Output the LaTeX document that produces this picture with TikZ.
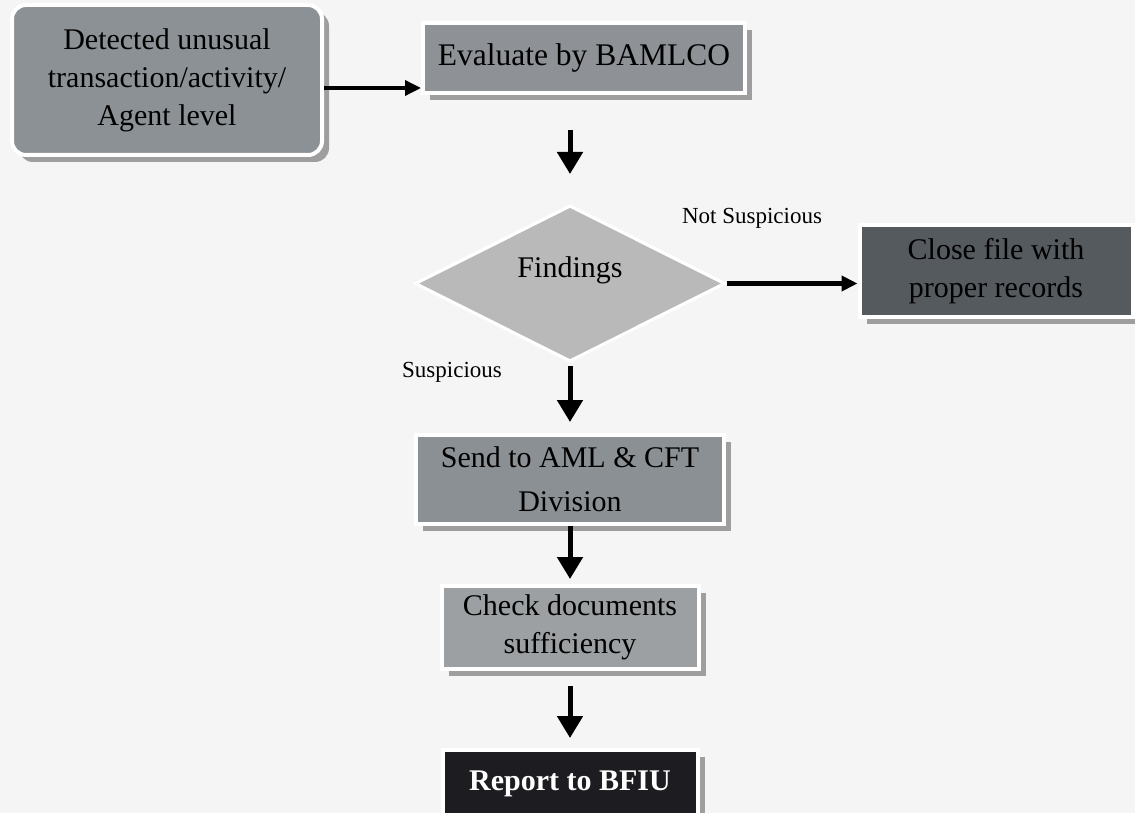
\documentclass[tikz,border=0pt]{standalone}
\usepackage{fontspec}
\setmainfont{Liberation Serif}
\usetikzlibrary{positioning,shapes.geometric,shadows,arrows.meta}

\definecolor{paper}{HTML}{F5F5F5}
\definecolor{detgray}{HTML}{8C9195}
\definecolor{evalgray}{HTML}{8E9296}
\definecolor{findgray}{HTML}{B9B9B9}
\definecolor{closegray}{HTML}{555A5F}
\definecolor{sendgray}{HTML}{8B9094}
\definecolor{checkgray}{HTML}{9DA0A2}
\definecolor{reportgray}{HTML}{1D1D21}

\tikzset{
  boxtext/.style={font=\fontsize{30}{38}\selectfont, align=center, inner sep=0pt},
  flowbox/.style={boxtext, rectangle, draw=white, line width=4pt,
    drop shadow={shadow xshift=7pt, shadow yshift=-7pt, fill=black!38, opacity=1}},
  decision/.style={boxtext, diamond, fill=findgray, draw=white, line width=3pt},
  flowarrow/.style={-{Triangle[length=22pt,width=25pt]}, line width=5pt},
  sidearrow/.style={-{Triangle[length=16pt,width=15pt]}, line width=3.5pt},
  branchlabel/.style={font=\fontsize{23}{27}\selectfont}
}

\begin{document}
\begin{tikzpicture}[x=1pt,y=-1pt]
  \useasboundingbox[fill=paper] (0,0) rectangle (1135,813);

  % --- Start and evaluation ---
  \node[flowbox, fill=detgray, rounded corners=14pt, minimum width=310pt, minimum height=150pt] (detect) at (167,80)
    {Detected unusual\\transaction/activity/\\Agent level};
  \node[flowbox, fill=evalgray, font=\fontsize{31.5}{38}\selectfont, minimum width=322pt, minimum height=70pt] (eval) at (584,58)
    {Evaluate by BAMLCO};

  % --- Decision and branches ---
  \node[decision, minimum width=310pt, minimum height=156pt, below=109pt of eval, xshift=-14pt] (find)
    {\raisebox{14pt}[0.7em][0.2em]{Findings}};
  \node[flowbox, fill=closegray, minimum width=273pt, minimum height=92pt] (close) at (996,271)
    {Close file with\\proper records};
  \node[flowbox, fill=sendgray, font=\fontsize{30}{44}\selectfont, minimum width=308pt, minimum height=89pt, below=70pt of find] (send)
    {Send to AML \& CFT\\Division};
  \node[flowbox, fill=checkgray, minimum width=257pt, minimum height=83pt, below=58pt of send] (check)
    {Check documents\\sufficiency};
  \node[flowbox, fill=reportgray, text=white, font=\fontsize{30}{38}\selectfont\bfseries,
    minimum width=255pt, minimum height=68pt, below=77pt of check] (report) {Report to BFIU};

  % --- Branch labels ---
  \node[branchlabel] (notsus) at (752,218) {Not Suspicious};
  \node[branchlabel] (sus) at (452,372) {Suspicious};

  % --- Connectors ---
  \draw[sidearrow] ([yshift=-8pt]detect.east) -- ([yshift=-8pt]detect.east -| eval.west);
  \draw[flowarrow, shorten <=35pt, shorten >=30pt] (find.north |- eval.south) -- (find.north);
  \draw[sidearrow, line width=4.5pt] (find.east) -- (find.east -| close.west);
  \draw[flowarrow, shorten <=3pt, shorten >=11pt] (find.south) -- (send.north);
  \draw[flowarrow, shorten >=5pt] (send.south) -- (check.north);
  \draw[flowarrow, shorten <=15pt, shorten >=10pt] (check.south) -- (report.north);
\end{tikzpicture}
\end{document}
